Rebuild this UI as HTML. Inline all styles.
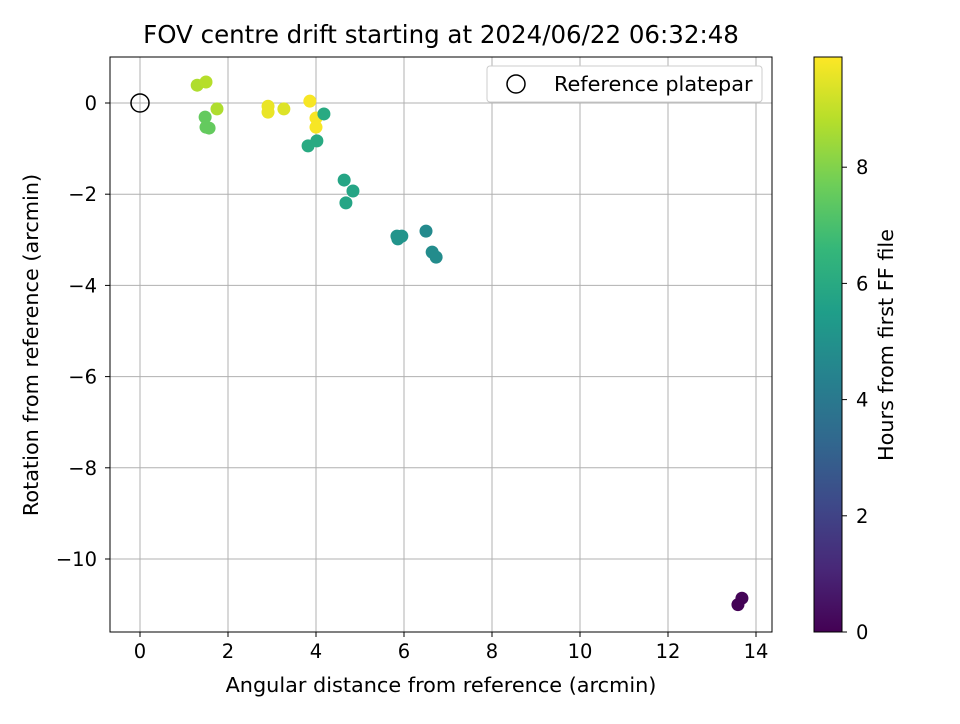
<!DOCTYPE html>
<html><head><meta charset="utf-8"><style>
body{margin:0;background:#fff;font-family:"DejaVu Sans","Liberation Sans",sans-serif}
svg text{font-family:"DejaVu Sans","Liberation Sans",sans-serif}
</style></head><body>
<svg id="c" width="960" height="720" xmlns="http://www.w3.org/2000/svg">
<defs><linearGradient id="vir" x1="0" y1="1" x2="0" y2="0">
<stop offset="0" stop-color="#440154"/><stop offset="0.111" stop-color="#482878"/><stop offset="0.222" stop-color="#3e4989"/><stop offset="0.333" stop-color="#31688e"/><stop offset="0.444" stop-color="#26828e"/><stop offset="0.556" stop-color="#1f9e89"/><stop offset="0.667" stop-color="#35b779"/><stop offset="0.778" stop-color="#6ece58"/><stop offset="0.889" stop-color="#b5de2b"/><stop offset="1" stop-color="#fde725"/></linearGradient></defs>
<text x="441" y="43" font-size="24.5" text-anchor="middle">FOV centre drift starting at 2024/06/22 06:32:48</text>
<g id="grid"></g><g id="pts"></g>
<rect x="110" y="57" width="662" height="575" fill="none" stroke="#000" stroke-width="1"/>
<g id="ticks"></g>
<text x="441" y="692" font-size="20.8" text-anchor="middle">Angular distance from reference (arcmin)</text>
<text transform="translate(38,345) rotate(-90)" font-size="20.8" text-anchor="middle">Rotation from reference (arcmin)</text>
<g>
<rect x="487" y="66" width="275" height="36" rx="3" fill="#fff" stroke="#ccc"/>
<circle cx="516" cy="84" r="9" fill="none" stroke="#000" stroke-width="1.5"/>
<text x="554" y="91" font-size="20.8">Reference platepar</text></g>
<rect x="814" y="57" width="28" height="575" fill="url(#vir)" stroke="#000"/>
<g id="cb"></g>
<text transform="translate(893,345) rotate(-90)" font-size="20.8" text-anchor="middle">Hours from first FF file</text>
</svg>
<script>
const xs=[1.30,1.50,1.48,1.50,1.57,1.75,2.91,2.91,3.27,3.86,4.0,4.0,4.18,3.82,4.02,4.64,4.84,4.68,5.84,5.95,5.86,6.5,6.64,6.73,13.68,13.59];
const ys=[0.39,0.46,-0.31,-0.53,-0.55,-0.13,-0.07,-0.20,-0.13,0.04,-0.33,-0.53,-0.24,-0.94,-0.83,-1.69,-1.93,-2.19,-2.92,-2.92,-2.98,-2.81,-3.27,-3.38,-10.86,-11.0];
const hrs=[8.7,8.8,7.5,7.5,7.5,8.7,9.6,9.6,9.4,9.8,9.8,9.8,6.0,6.0,6.0,5.8,5.8,5.8,5.1,5.1,5.1,4.7,4.8,4.8,0.1,0.05];
const xTicks=[0,2,4,6,8,10,12,14],yTicks=[0,-2,-4,-6,-8,-10],cbTicks=[0,2,4,6,8];
const X=v=>140+v*44,Y=v=>103-v*45.6,C=v=>632-v*58.1;
const ns="http://www.w3.org/2000/svg";
function mk(t,a,p){const e=document.createElementNS(ns,t);for(const k in a)e.setAttribute(k,a[k]);document.getElementById(p).appendChild(e);return e;}
const vir=[[68,1,84],[72,40,120],[62,73,137],[49,104,142],[38,130,142],[31,158,137],[53,183,121],[110,206,88],[181,222,43],[253,231,37]];
function col(h){let t=Math.max(0,Math.min(1,h/9.89))*9,i=Math.min(8,Math.floor(t)),f=t-i;const a=vir[i],b=vir[i+1];return `rgb(${a.map((v,j)=>Math.round(v+(b[j]-v)*f)).join(',')})`;}
xTicks.forEach(t=>{const g=mk('line',{x1:X(t),x2:X(t),y1:57,y2:632,stroke:'#b0b0b0'},'grid');
const k=mk('line',{x1:X(t),x2:X(t),y1:632,y2:637,stroke:'#000'},'ticks');
const l=mk('text',{x:X(t),y:658,'font-size':19.5,'text-anchor':'middle'},'ticks');l.textContent=t;});
yTicks.forEach(t=>{const g=mk('line',{x1:110,x2:772,y1:Y(t),y2:Y(t),stroke:'#b0b0b0'},'grid');
const k=mk('line',{x1:105,x2:110,y1:Y(t),y2:Y(t),stroke:'#000'},'ticks');
const l=mk('text',{x:97,y:Y(t)+7,'font-size':19.5,'text-anchor':'end'},'ticks');l.textContent=t===0?'0':'\u2212'+Math.abs(t);});
cbTicks.forEach(t=>{const k=mk('line',{x1:842,x2:847,y1:C(t),y2:C(t),stroke:'#000'},'cb');
const l=mk('text',{x:856,y:C(t)+7,'font-size':19.5},'cb');l.textContent=t;});
xs.forEach((x,i)=>{const p=mk('circle',{cx:X(x),cy:Y(ys[i]),r:6.5,fill:col(hrs[i])},'pts');});
const r=mk('circle',{cx:X(0),cy:Y(0),r:9,fill:'none',stroke:'#000','stroke-width':1.5},'pts');


</script>
</body></html>
